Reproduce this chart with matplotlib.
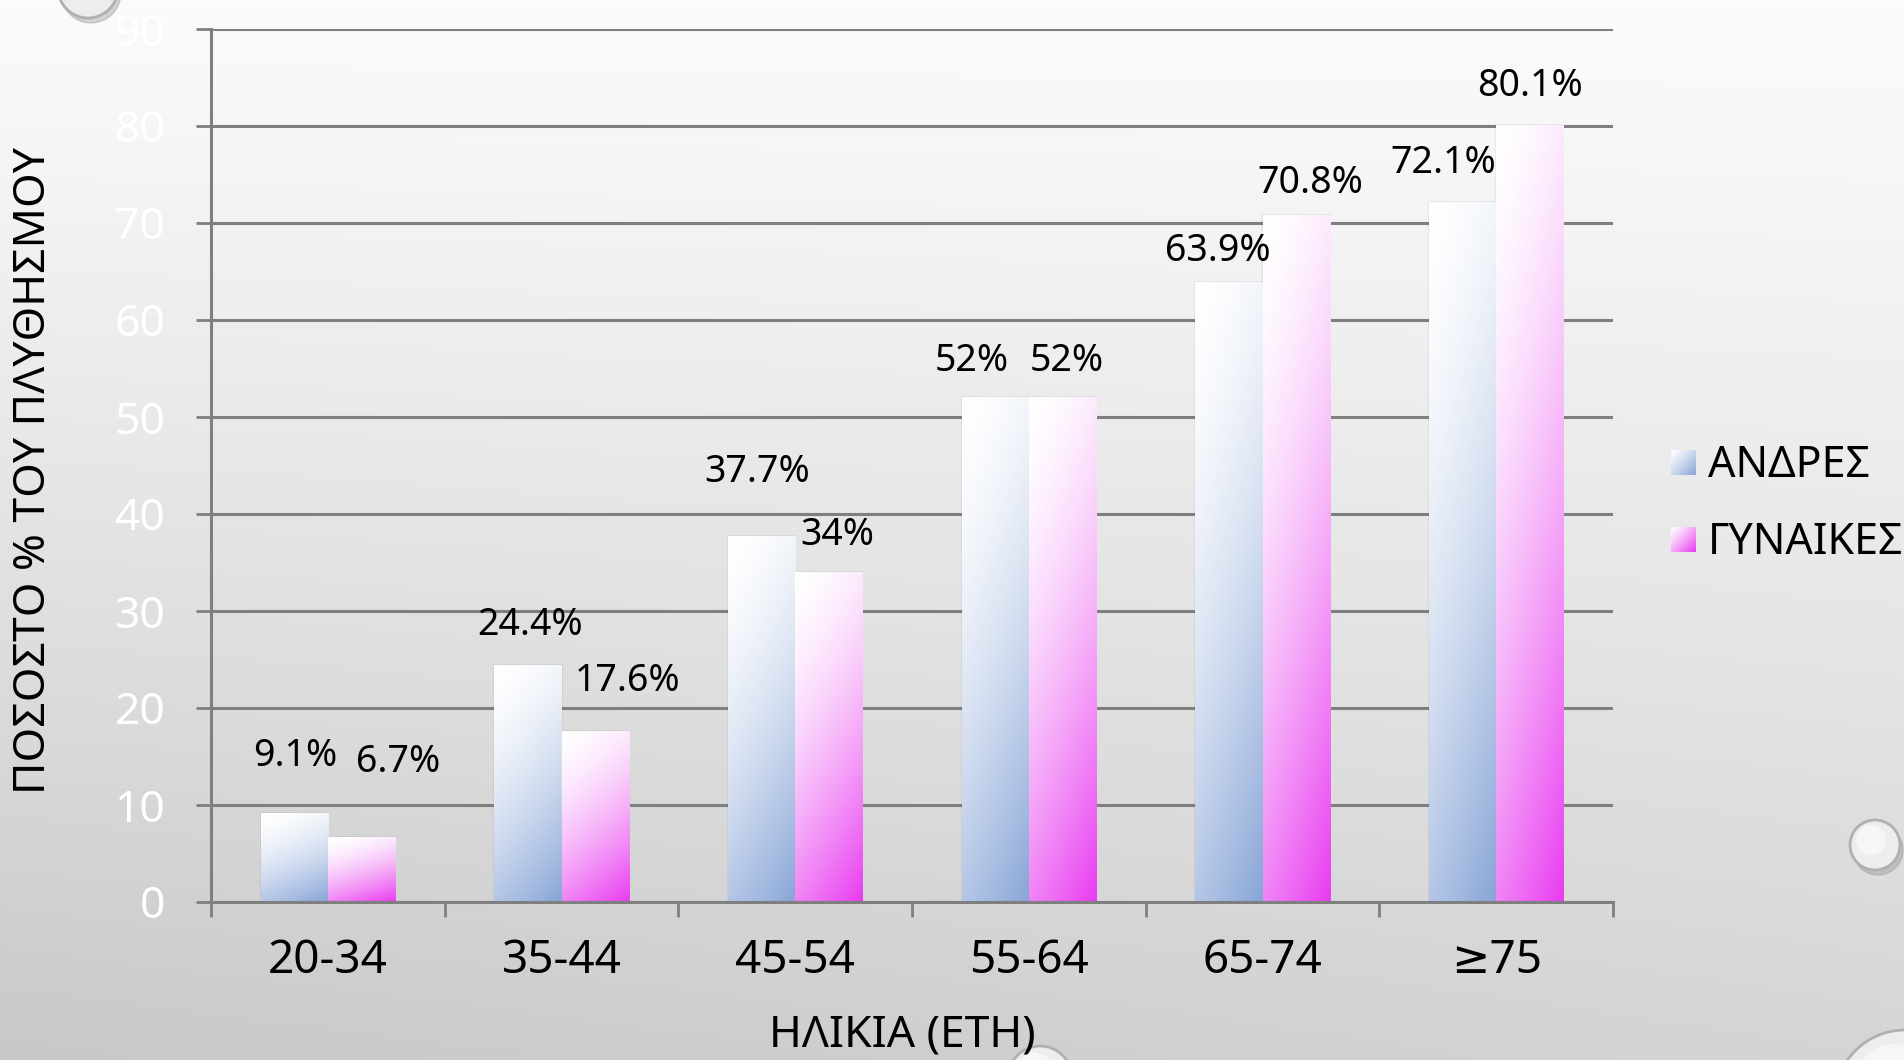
import numpy as np
import matplotlib

matplotlib.use('Agg')
import matplotlib.pyplot as plt
from matplotlib.patches import Circle, Rectangle

plt.rcParams['font.family'] = ['Noto Sans', 'DejaVu Sans']

# data
age_groups = ['20-34', '35-44', '45-54', '55-64', '65-74', '≥75']
men = [9.1, 24.4, 37.7, 52, 63.9, 72.1]
women = [6.7, 17.6, 34, 52, 70.8, 80.1]
series_names = ['ΑΝΔΡΕΣ', 'ΓΥΝΑΙΚΕΣ']
y_ticks = [0, 10, 20, 30, 40, 50, 60, 70, 80, 90]

# label placement (offset from the bar top, category units / data units)
men_lbl_dx = [0.005, 0.01, -0.02, -0.10, -0.047, -0.083]
men_lbl_dy = [5.9, 4.2, 6.6, 3.8, 3.2, 4.1]
women_lbl_dx = [0.156, 0.14, 0.036, 0.02, 0.062, 0.0]
women_lbl_dy = [7.7, 5.2, 3.8, 3.8, 3.3, 4.0]

MEN_COLOR = np.array([0x88, 0xa5, 0xd7]) / 255.0
WOMEN_COLOR = np.array([0xe8, 0x3c, 0xf0]) / 255.0
GRID = '#7f7f7f'
W, H = 1904, 1060
BAR_W = 0.287


def gradient(color, ny=200, nx=40, tilt=0.25, power=1.6):
    """White at the top-left, full colour at the bottom-right."""
    v = np.linspace(0, 1, ny)[:, None]
    u = np.linspace(0, 1, nx)[None, :]
    t = np.clip((1 - tilt) * v + tilt * u, 0, 1) ** power
    img = 1 - t[..., None] * (1 - color[None, None, :])
    return img


fig = plt.figure(figsize=(W / 100, H / 100), dpi=100)

# slide background
bg = fig.add_axes([0, 0, 1, 1])
yy = np.linspace(0, 1, 300)[:, None]
xx = np.linspace(0, 1, 400)[None, :]
shade = 0.985 - 0.2 * yy ** 1.1 + 0.05 * xx * yy
bg.imshow(np.dstack([shade] * 3), extent=[0, W, 0, H], aspect='auto', zorder=0)
for (cx, cy, r) in [(88, H + 12, 30), (1875, H - 845, 25), (1040, -18, 32), (1905, -40, 70)]:
    bg.add_patch(Circle((cx + 3, cy - 5), r, color='#8a8a8a', alpha=0.35, zorder=1))
    bg.add_patch(Circle((cx, cy), r, facecolor='#ededed', edgecolor='#b0b0b0', lw=2, zorder=2))
    bg.add_patch(Circle((cx - r * 0.15, cy + r * 0.2), r * 0.6, facecolor='white', alpha=0.5,
                        edgecolor='none', zorder=3))
bg.set_xlim(0, W)
bg.set_ylim(0, H)
bg.axis('off')

ax = fig.add_axes([211 / W, 1 - 902 / H, (1613 - 211) / W, (902 - 29) / H])
ax.set_facecolor('none')

x = np.arange(len(age_groups))
for vals, col, side in [(men, MEN_COLOR, -1), (women, WOMEN_COLOR, 1)]:
    bars = ax.bar(x + side * BAR_W / 2, vals, width=BAR_W, color='none', zorder=3)
    img = gradient(col)
    for b in bars:
        x0, w, h = b.get_x(), b.get_width(), b.get_height()
        ax.add_patch(Rectangle((x0 - 0.005, 0), w + 0.01, h + 0.15, color='#000000',
                               alpha=0.05, zorder=2.5, lw=0))
        ax.imshow(img, extent=[x0, x0 + w, 0, h], aspect='auto', zorder=3, origin='upper')

for i in range(len(age_groups)):
    ax.text(x[i] - BAR_W / 2 + men_lbl_dx[i], men[i] + men_lbl_dy[i], '{:g}%'.format(men[i]),
            ha='center', va='center', fontsize=27, color='black', zorder=5)
    ax.text(x[i] + BAR_W / 2 + women_lbl_dx[i], women[i] + women_lbl_dy[i], '{:g}%'.format(women[i]),
            ha='center', va='center', fontsize=27, color='black', zorder=5)

ax.set_xlim(-0.5, len(age_groups) - 0.5)
ax.set_ylim(0, 90)
ax.set_yticks(y_ticks)
ax.set_yticklabels([str(t) for t in y_ticks], color='white', fontsize=32)
ax.set_xticks(x)
ax.set_xticklabels(age_groups, fontsize=33)
ax.set_xticks(np.arange(len(age_groups) + 1) - 0.5, minor=True)
ax.tick_params(axis='x', which='major', length=0, pad=26)
ax.tick_params(axis='x', which='minor', length=11, width=2, color=GRID, direction='out')
ax.tick_params(axis='y', which='major', length=11, width=2, color=GRID, direction='out', pad=22)

ax.yaxis.grid(True, color=GRID, lw=2.2, zorder=1)
ax.set_axisbelow(True)
for s in ['top', 'right']:
    ax.spines[s].set_visible(False)
for s in ['left', 'bottom']:
    ax.spines[s].set_color(GRID)
    ax.spines[s].set_linewidth(2.2)
    ax.spines[s].set_zorder(4)

fig.text(34 / W, 1 - 470 / H, 'ΠΟΣΟΣΤΟ % ΤΟΥ ΠΛΥΘΗΣΜΟΥ', rotation=90, ha='center', va='center',
         fontsize=32)
fig.text(902 / W, 1 - 1036 / H, 'ΗΛΙΚΙΑ (ΕΤΗ)', ha='center', va='center', fontsize=32)

# legend
for k, (name, col) in enumerate(zip(series_names, [MEN_COLOR, WOMEN_COLOR])):
    top = 450 + k * 77
    lax = fig.add_axes([1671 / W, 1 - (top + 25) / H, 25 / W, 25 / H])
    lax.imshow(gradient(col, ny=30, nx=30, tilt=0.5, power=1.2), aspect='auto')
    lax.axis('off')
    fig.text(1708 / W, 1 - (top + 16) / H, name, ha='left', va='center', fontsize=31)

fig.savefig('out.png', dpi=100)
